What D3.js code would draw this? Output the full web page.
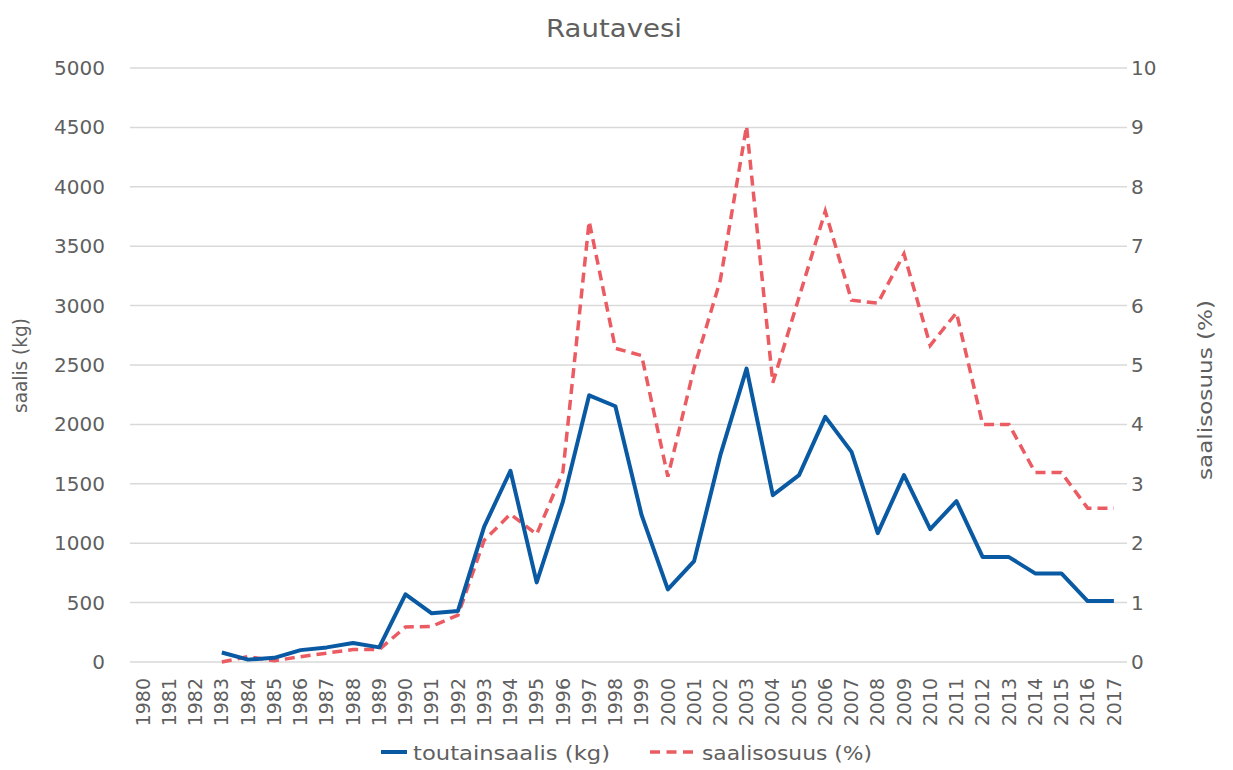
<!DOCTYPE html>
<html>
<head>
<meta charset="utf-8">
<script src="https://cdn.jsdelivr.net/npm/d3@7"></script>
<style>
  body { margin: 0; background: #fff; }
  text { font-family: "DejaVu Sans", sans-serif; fill: #5f5f5f; }
</style>
</head>
<body>
<div id="chart"></div>
<script>
const width = 1233;
const height = 770;

// Years on the x axis
const years = d3.range(1980, 2018).map(String);

// Catch in kg (null = no data)
const catchKg = [null, null, null, 80, 20, 35, 100, 123, 160, 123,
  570, 410, 430, 1140, 1610, 670, 1350, 2245, 2153, 1236,
  611, 849, 1741, 2470, 1404, 1573, 2063, 1769, 1085, 1573,
  1118, 1354, 883, 883, 746, 746, 513, 513];

// Catch share in %
const sharePct = [null, null, null, 0.0, 0.09, 0.02, 0.09, 0.15, 0.21, 0.21,
  0.59, 0.6, 0.79, 2.05, 2.49, 2.15, 3.2, 7.42, 5.28, 5.16,
  3.12, 4.95, 6.43, 9.02, 4.7, 6.14, 7.59, 6.09, 6.04, 6.87,
  5.33, 5.88, 4.0, 4.0, 3.19, 3.19, 2.59, 2.59];

const leftTicks = [0, 500, 1000, 1500, 2000, 2500, 3000, 3500, 4000, 4500, 5000];
const rightTicks = [0, 1, 2, 3, 4, 5, 6, 7, 8, 9, 10];

const margin = { top: 68, right: 106, bottom: 108, left: 130 };

const blue = "#0a5aa3";
const red = "#eb5b62";

const svg = d3.select("#chart").append("svg")
  .attr("width", width)
  .attr("height", height);

const x = d3.scaleBand()
  .domain(years)
  .range([margin.left, width - margin.right]);

const yLeft = d3.scaleLinear()
  .domain([0, 5000])
  .range([height - margin.bottom, margin.top]);

const yRight = d3.scaleLinear()
  .domain([0, 10])
  .range([height - margin.bottom, margin.top]);

// Gridlines
svg.append("g")
  .selectAll("line")
  .data(leftTicks)
  .enter().append("line")
  .attr("x1", margin.left)
  .attr("x2", width - margin.right)
  .attr("y1", d => yLeft(d))
  .attr("y2", d => yLeft(d))
  .attr("stroke", "#d9d9d9")
  .attr("stroke-width", 1.5);

// Left axis labels
svg.append("g")
  .attr("transform", `translate(${margin.left - 25},0)`)
  .call(d3.axisLeft(yLeft).tickValues(leftTicks).tickFormat(d3.format("d")).tickSize(0).tickPadding(0))
  .call(g => g.select(".domain").remove())
  .selectAll("text")
  .style("font-size", "20px")
  .style("fill", "#5f5f5f");

// Right axis labels
svg.append("g")
  .attr("transform", `translate(${width - margin.right + 4},0)`)
  .call(d3.axisRight(yRight).tickValues(rightTicks).tickSize(0).tickPadding(0))
  .call(g => g.select(".domain").remove())
  .selectAll("text")
  .style("font-size", "20px")
  .style("fill", "#5f5f5f");

// X axis labels (rotated)
svg.append("g")
  .attr("transform", `translate(0,${height - margin.bottom + 16})`)
  .call(d3.axisBottom(x).tickSize(0).tickPadding(0))
  .call(g => g.select(".domain").remove())
  .selectAll("text")
  .style("font-size", "19px")
  .style("fill", "#5f5f5f")
  .attr("text-anchor", "end")
  .attr("y", 0)
  .attr("dy", "0.35em")
  .attr("transform", "rotate(-90)");

// Title
svg.append("text")
  .attr("x", 546)
  .attr("y", 37)
  .attr("textLength", 136)
  .attr("lengthAdjust", "spacingAndGlyphs")
  .style("font-size", "25px")
  .text("Rautavesi");

// Axis titles
svg.append("text")
  .attr("transform", "translate(27,413) rotate(-90)")
  .attr("textLength", 95)
  .attr("lengthAdjust", "spacingAndGlyphs")
  .style("font-size", "20px")
  .text("saalis (kg)");

svg.append("text")
  .attr("transform", "translate(1212,480) rotate(-90)")
  .attr("textLength", 180)
  .attr("lengthAdjust", "spacingAndGlyphs")
  .style("font-size", "20px")
  .text("saalisosuus (%)");

const cx = d => x(d) + x.bandwidth() / 2;

const lineKg = d3.line()
  .defined(d => d[1] != null)
  .x(d => cx(d[0]))
  .y(d => yLeft(d[1]));

const linePct = d3.line()
  .defined(d => d[1] != null)
  .x(d => cx(d[0]))
  .y(d => yRight(d[1]));

svg.append("path")
  .datum(years.map((yr, i) => [yr, sharePct[i]]))
  .attr("d", linePct)
  .attr("fill", "none")
  .attr("stroke", red)
  .attr("stroke-width", 3.5)
  .attr("stroke-dasharray", "10,6");

svg.append("path")
  .datum(years.map((yr, i) => [yr, catchKg[i]]))
  .attr("d", lineKg)
  .attr("fill", "none")
  .attr("stroke", blue)
  .attr("stroke-width", 4)
  .attr("stroke-linejoin", "round");

// Legend
const legend = svg.append("g");
legend.append("line")
  .attr("x1", 381).attr("x2", 407)
  .attr("y1", 752).attr("y2", 752)
  .attr("stroke", blue)
  .attr("stroke-width", 4);
legend.append("text")
  .attr("x", 413).attr("y", 760)
  .attr("textLength", 197)
  .attr("lengthAdjust", "spacingAndGlyphs")
  .style("font-size", "20px")
  .text("toutainsaalis (kg)");
legend.append("line")
  .attr("x1", 650).attr("x2", 693)
  .attr("y1", 752).attr("y2", 752)
  .attr("stroke", red)
  .attr("stroke-width", 3.5)
  .attr("stroke-dasharray", "10,6.5");
legend.append("text")
  .attr("x", 702).attr("y", 760)
  .attr("textLength", 170)
  .attr("lengthAdjust", "spacingAndGlyphs")
  .style("font-size", "20px")
  .text("saalisosuus (%)");
</script>
</body>
</html>
